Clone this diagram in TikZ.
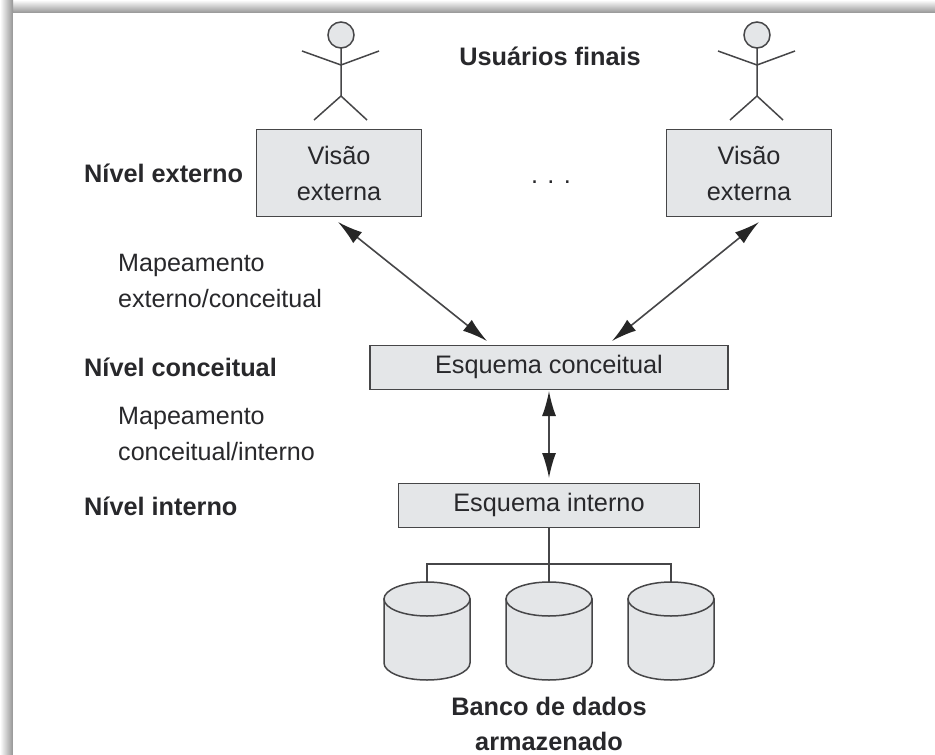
\documentclass[tikz,border=0pt]{standalone}
\usepackage{fontspec}
\setmainfont{Liberation Sans}
\usetikzlibrary{arrows.meta,fadings,calc}
\definecolor{boxfill}{RGB}{228,230,232}
\definecolor{ink}{RGB}{40,40,43}
\definecolor{edgecol}{RGB}{70,70,72}
\newcommand{\bstrut}{\rule[-7pt]{0pt}{24pt}}
\tikzset{
  x=1pt,y=-1pt,
  lbl/.style={font=\fontsize{25.3}{36}\selectfont,text=ink,align=center,inner sep=0},
  lblL/.style={font=\fontsize{25.1}{36}\selectfont,text=ink,align=left,inner sep=0,anchor=west},
  bold/.style={font=\fontsize{25.3}{35}\selectfont\bfseries,text=ink,align=center,inner sep=0},
  boldL/.style={bold,anchor=west},
  boxn/.style={draw=edgecol,line width=1.6pt,fill=boxfill,inner sep=0,align=center,text=ink,font=\fontsize{25.3}{36}\selectfont},
  conn/.style={draw=edgecol,line width=1.6pt},
  dbl/.style={conn,{Latex[length=25pt,width=14pt,color=black!85]}-{Latex[length=25pt,width=14pt,color=black!85]}},
  stick/.style={draw=edgecol,line width=1.5pt},
}
\newcommand{\stickman}[3]{% x, top y of head, name
  \coordinate (#3neck) at (#1,#2+26);
  \coordinate (#3hip) at (#1,#2+74);
  \draw[stick,fill=boxfill] (#1,#2+13) circle[radius=13];
  \draw[stick] (#3neck) -- (#3hip) -- +(-27,24);
  \draw[stick] (#3hip) -- +(26,24);
  \draw[stick] (#1-39,#2+29) -- (#1,#2+43) -- (#1+38,#2+29);
}
\newcommand{\cyl}[2]{% cx, name
  \draw[stick,fill=boxfill] (#1-43,599) -- (#1-43,663) arc[start angle=180,end angle=0,x radius=43,y radius=17] -- (#1+43,599) -- cycle;
  \draw[stick,fill=boxfill] (#1,599) ellipse[x radius=43,y radius=17];
}
\begin{document}
\begin{tikzpicture}
\useasboundingbox (0,0) rectangle (935,755);
\fill[white] (0,0) rectangle (935,755);
% page frame shadow
\shade[top color=white,bottom color=black!42] (0,0) rectangle (935,13);
\shade[left color=white,right color=black!42] (0,0) rectangle (13,755);
\fill[white] (13,13) rectangle (935,755);

\stickman{341}{22}{a}
\stickman{757}{22}{b}

\node[bold] (users) at (550,56) {Usuários finais};
\node[boxn,minimum width=165,minimum height=87] (v1) at (339,173) {Visão\\externa};
\node[boxn,minimum width=165,minimum height=87] (v2) at (749,173) {Visão\\externa};
\node[lbl] (dots) at (551,182) {. . .};
\node[boldL] (ne) at (84,173) {Nível externo};
\node[lblL] (m1) at (118,280.5) {Mapeamento\\externo/conceitual};
\node[boxn,minimum width=358,minimum height=44] (ec) at (549,367.5) {\bstrut Esquema conceitual};
\node[boldL] (nc) at (84,367) {Nível conceitual};
\node[lblL] (m2) at (118,434) {Mapeamento\\conceitual/interno};
\node[boxn,minimum width=301,minimum height=44] (ei) at (549,505.5) {\bstrut Esquema interno};
\node[boldL] (ni) at (84,506) {Nível interno};
\node[bold] (bd) at (549,723.5) {Banco de dados\\armazenado};

\coordinate (a1) at (338,222);
\coordinate (a2) at (487,341);
\coordinate (b1) at (759,222);
\coordinate (b2) at (612,341);
\coordinate (vt) at (549,391);
\coordinate (vb) at (549,478);
\draw[dbl] (a1) -- (a2);
\draw[dbl] (b1) -- (b2);
\draw[dbl] (vt) -- (vb);

\cyl{427}{c1}
\cyl{549}{c2}
\cyl{671}{c3}
\coordinate (busL) at (427,564);
\coordinate (busR) at (671,564);
\coordinate (c1t) at (427,582);
\coordinate (c2t) at (549,582);
\coordinate (c3t) at (671,582);
\draw[conn] (c1t) -- (busL) -- (busR) -- (c3t);
\draw[conn] (ei.south) -- (c2t);
\end{tikzpicture}
\end{document}
